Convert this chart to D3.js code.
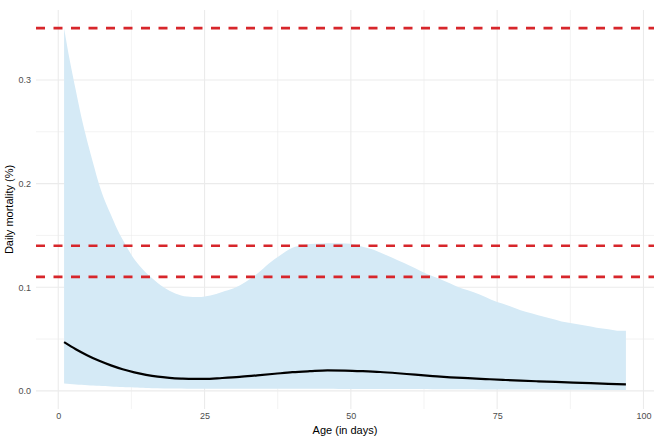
<!DOCTYPE html>
<html>
<head>
<meta charset="utf-8">
<script src="https://cdn.jsdelivr.net/npm/d3@7"></script>
<style>
  html, body { margin: 0; padding: 0; background: #ffffff; }
  svg { display: block; font-family: "Liberation Sans", Arial, sans-serif; }
</style>
</head>
<body>
<svg id="chart" width="660" height="440"></svg>
<script>
// ---- data ----
const bandDays  = [1,2,3,4,5,6,7,8,9,10,11,12,13,14,15,16,18,20,22,24,26,28,30,32,34,36,38,40,42,44,46,48,50,52,54,56,58,60,62,64,66,68,70,72,74,76,78,80,82,84,86,88,90,92,94,96,97];
const bandUpper = [0.350,0.318,0.290,0.263,0.240,0.219,0.199,0.183,0.170,0.157,0.146,0.136,0.127,0.120,0.114,0.109,0.100,0.094,0.091,0.0905,0.092,0.0955,0.099,0.105,0.113,0.123,0.131,0.138,0.141,0.142,0.1425,0.1425,0.142,0.139,0.136,0.131,0.126,0.121,0.1155,0.1105,0.106,0.101,0.097,0.093,0.088,0.084,0.080,0.076,0.073,0.070,0.067,0.065,0.063,0.061,0.0595,0.058,0.058];
const bandLower = [0.0070,0.0066,0.0062,0.0058,0.0055,0.0052,0.0049,0.0046,0.0043,0.0040,0.0037,0.0034,0.0032,0.0030,0.0028,0.0026,0.0024,0.0022,0.0021,0.0020,0.0020,0.0020,0.0020,0.0020,0.0020,0.0020,0.0020,0.0020,0.0020,0.0020,0.0020,0.0019,0.0019,0.0019,0.0018,0.0018,0.0018,0.0017,0.0017,0.0016,0.0016,0.0015,0.0015,0.0014,0.0014,0.0013,0.0013,0.0012,0.0012,0.0011,0.0011,0.0010,0.0010,0.0009,0.0009,0.0008,0.0008];

const fitDays   = [1,3,5,7,9,11,13,15,17,19,21,23,25,28,31,34,37,40,43,46,49,52,55,58,61,64,67,70,73,76,79,82,85,88,91,94,97];
const fitValues = [0.047,0.0402,0.0342,0.0290,0.0246,0.0209,0.0179,0.0155,0.0137,0.0126,0.0119,0.0115,0.0115,0.0124,0.0135,0.0150,0.0165,0.0180,0.0190,0.0198,0.0196,0.0190,0.0182,0.0170,0.0156,0.0143,0.0131,0.0122,0.0114,0.0106,0.0098,0.0092,0.0086,0.0080,0.0074,0.0068,0.0063];

const thresholds = [0.35, 0.14, 0.11];

const xTicks = [0, 25, 50, 75, 100];
const xMinor = [12.5, 37.5, 62.5, 87.5];
const yTicks = [0.0, 0.1, 0.2, 0.3];
const yMinor = [0.05, 0.15, 0.25];

const xTitle = "Age (in days)";
const yTitle = "Daily mortality (%)";

// ---- layout ----
const svg = d3.select("#chart");
const panel = { left: 36, right: 654, top: 10, bottom: 409 };

const x = d3.scaleLinear().domain([-3.8, 101.8]).range([panel.left, panel.right]);
const y = d3.scaleLinear().domain([-0.0175, 0.3675]).range([panel.bottom, panel.top]);

const g = svg.append("g");

// grid
g.selectAll(".xminor").data(xMinor).enter().append("line")
  .attr("x1", d => x(d)).attr("x2", d => x(d))
  .attr("y1", panel.top).attr("y2", panel.bottom)
  .attr("stroke", "#ebebeb").attr("stroke-width", 0.6);
g.selectAll(".yminor").data(yMinor).enter().append("line")
  .attr("y1", d => y(d)).attr("y2", d => y(d))
  .attr("x1", panel.left).attr("x2", panel.right)
  .attr("stroke", "#ebebeb").attr("stroke-width", 0.6);
g.selectAll(".xmajor").data(xTicks).enter().append("line")
  .attr("x1", d => x(d)).attr("x2", d => x(d))
  .attr("y1", panel.top).attr("y2", panel.bottom)
  .attr("stroke", "#ebebeb").attr("stroke-width", 1.1);
g.selectAll(".ymajor").data(yTicks).enter().append("line")
  .attr("y1", d => y(d)).attr("y2", d => y(d))
  .attr("x1", panel.left).attr("x2", panel.right)
  .attr("stroke", "#ebebeb").attr("stroke-width", 1.1);

// band
const bandData = bandDays.map((d, i) => ({ d, lo: bandLower[i], hi: bandUpper[i] }));
g.append("path")
  .datum(bandData)
  .attr("fill", "#d5eaf6")
  .attr("d", d3.area()
    .x(p => x(p.d))
    .y0(p => y(p.lo))
    .y1(p => y(p.hi))
    .curve(d3.curveMonotoneX));

// threshold lines
g.selectAll(".thr").data(thresholds).enter().append("line")
  .attr("x1", panel.left).attr("x2", panel.right)
  .attr("y1", d => y(d)).attr("y2", d => y(d))
  .attr("stroke", "#d7262b").attr("stroke-width", 2.6)
  .attr("stroke-dasharray", "9,8.5");

// fitted line
const fitData = fitDays.map((d, i) => ({ d, v: fitValues[i] }));
g.append("path")
  .datum(fitData)
  .attr("fill", "none")
  .attr("stroke", "#000000")
  .attr("stroke-width", 2.2)
  .attr("d", d3.line().x(p => x(p.d)).y(p => y(p.v)).curve(d3.curveMonotoneX));

// axes (labels only, minimal theme)
const xAxis = d3.axisBottom(x).tickValues(xTicks).tickSize(0).tickPadding(0).tickFormat(d3.format("d"));
const xa = svg.append("g").attr("transform", `translate(0,${panel.bottom + 4})`).call(xAxis);
xa.select(".domain").remove();
xa.selectAll("text").attr("fill", "#4d4d4d").attr("font-size", 9).attr("dy", "0.71em")
  .attr("font-family", "'Liberation Sans', Arial, sans-serif");

const yAxis = d3.axisLeft(y).tickValues(yTicks).tickSize(0).tickPadding(0).tickFormat(d3.format(".1f"));
const ya = svg.append("g").attr("transform", `translate(${panel.left - 5},0)`).call(yAxis);
ya.select(".domain").remove();
ya.selectAll("text").attr("fill", "#4d4d4d").attr("font-size", 9)
  .attr("font-family", "'Liberation Sans', Arial, sans-serif");

// titles
svg.append("text")
  .attr("x", (panel.left + panel.right) / 2)
  .attr("y", 434)
  .attr("text-anchor", "middle")
  .attr("font-size", 11)
  .attr("fill", "#000")
  .text(xTitle);

svg.append("text")
  .attr("transform", `translate(13,${(panel.top + panel.bottom) / 2}) rotate(-90)`)
  .attr("text-anchor", "middle")
  .attr("font-size", 11)
  .attr("fill", "#000")
  .text(yTitle);
</script>
</body>
</html>
